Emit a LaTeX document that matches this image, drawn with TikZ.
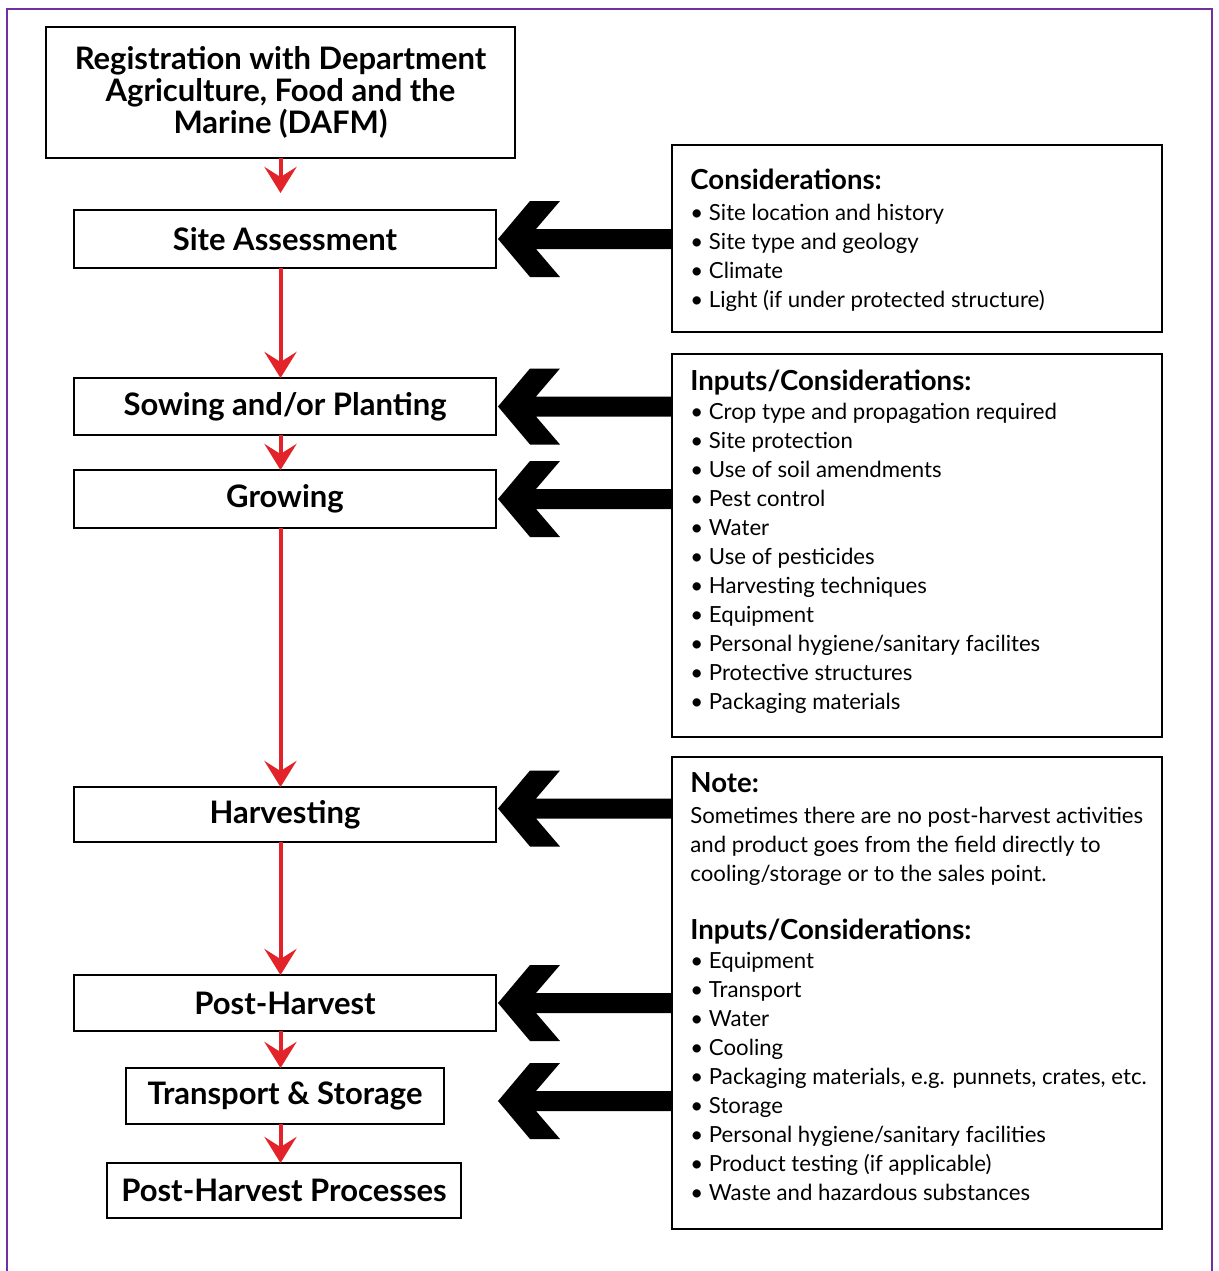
\documentclass[tikz,border=0pt]{standalone}
\usepackage{fontspec}
\setmainfont{Lato}
\usetikzlibrary{arrows.meta,calc}
\definecolor{borderpurple}{RGB}{112,48,160}
\definecolor{flowred}{RGB}{226,35,42}
\newcommand\bigarrow[2]{%
  \fill (#1) -- ++(32,-38) -- ++(30,0) -- ++(-24,28) -- ($(#2)+(0,-10)$)
    -- ($(#2)+(0,10)$) -- ($(#1)+(38,10)$) -- ++(24,28) -- ++(-30,0) -- cycle;}
\begin{document}
\begin{tikzpicture}[x=0.5pt,y=-0.5pt,
  stage/.style={draw=black, line width=1pt, inner sep=0pt, outer sep=0pt,
    anchor=north west, align=center, font=\bfseries\fontsize{15.5}{16}\selectfont},
  infobox/.style={draw=black, line width=1pt, inner sep=0pt, outer sep=0pt,
    anchor=north west, minimum width=245pt},
  infotext/.style={anchor=west, align=left, inner sep=0pt,
    font=\fontsize{11.1}{14.5}\selectfont},
  redflow/.style={draw=flowred, line width=2pt,
    -{Stealth[length=13pt,width=16pt,inset=5pt]}}
]
\newcommand\hd[1]{{\bfseries\fontsize{13.8}{14.5}\selectfont #1}}
\useasboundingbox (0,0) rectangle (1219,1271);
\draw[borderpurple, line width=1pt] (7,1280) -- (7,9) -- (1212,9) -- (1212,1280);

% stages
\node[stage, minimum width=234.5pt, minimum height=65.5pt] (reg) at (46,27)
  {Registration with Department\\Agriculture, Food and the\\Marine (DAFM)};
\node[stage, minimum width=211pt, minimum height=29pt] (sa) at (74,210) {Site Assessment};
\node[stage, minimum width=211pt, minimum height=28.5pt] (sow) at (74,378) {Sowing and/or Planting};
\node[stage, minimum width=211pt, minimum height=29pt] (grow) at (74,470) {Growing};
\node[stage, minimum width=211pt, minimum height=27.5pt] (harv) at (74,787) {Harvesting};
\node[stage, minimum width=211pt, minimum height=28pt] (ph) at (74,975) {Post-Harvest};
\node[stage, minimum width=159pt, minimum height=28pt] (ts) at (126,1068) {Transport \& Storage};
\node[stage, minimum width=177pt, minimum height=27.5pt] (php) at (107,1163) {Post-Harvest Processes};

% red flow arrows
\draw[redflow, shorten >=8.5pt] (reg.south) -- (reg.south |- sa.north);
\draw[redflow] (reg.south |- sa.south) -- (reg.south |- sow.north);
\draw[redflow] (reg.south |- sow.south) -- (reg.south |- grow.north);
\draw[redflow] (reg.south |- grow.south) -- (reg.south |- harv.north);
\draw[redflow] (reg.south |- harv.south) -- (reg.south |- ph.north);
\draw[redflow] (reg.south |- ph.south) -- (reg.south |- ts.north);
\draw[redflow] (reg.south |- ts.south) -- (reg.south |- php.north);

% info boxes
\node[infobox, minimum height=93.5pt] (cons) at (672,145) {};
\node[infobox, minimum height=191.5pt] (inp) at (672,354) {};
\node[infobox, minimum height=236pt] (note) at (672,757) {};

\node[infotext] (consT) at ($(cons.west)+(18,2)$) {%
  \hd{Considerations:}\\[1pt]
  \textbullet\ Site location and history\\
  \textbullet\ Site type and geology\\
  \textbullet\ Climate\\
  \textbullet\ Light (if under protected structure)};
\node[infotext] (inpT) at ($(inp.west)+(18,-4)$) {%
  \hd{Inputs/Considerations:}\\
  \textbullet\ Crop type and propagation required\\
  \textbullet\ Site protection\\
  \textbullet\ Use of soil amendments\\
  \textbullet\ Pest control\\
  \textbullet\ Water\\
  \textbullet\ Use of pesticides\\
  \textbullet\ Harvesting techniques\\
  \textbullet\ Equipment\\
  \textbullet\ Personal hygiene/sanitary facilites\\
  \textbullet\ Protective structures\\
  \textbullet\ Packaging materials};
\node[infotext] (noteT) at ($(note.west)+(18,-6)$) {%
  \hd{Note:}\\[1pt]
  Sometimes there are no post-harvest activities\\
  and product goes from the field directly to\\
  cooling/storage or to the sales point.\\[14.5pt]
  \hd{Inputs/Considerations:}\\
  \textbullet\ Equipment\\
  \textbullet\ Transport\\
  \textbullet\ Water\\
  \textbullet\ Cooling\\
  \textbullet\ Packaging materials, e.g. punnets, crates, etc.\\
  \textbullet\ Storage\\
  \textbullet\ Personal hygiene/sanitary facilities\\
  \textbullet\ Product testing (if applicable)\\
  \textbullet\ Waste and hazardous substances};

% big black arrows
\coordinate (tipx) at (498,0);
\bigarrow{$(tipx |- sa.east)$}{$(cons.west |- sa.east)$}
\bigarrow{$(tipx |- sow.east)$}{$(inp.west |- sow.east)$}
\bigarrow{$(tipx |- grow.east)$}{$(inp.west |- grow.east)$}
\bigarrow{$(tipx |- harv.east)+(0,-6)$}{$(note.west |- harv.east)+(0,-6)$}
\bigarrow{$(tipx |- ph.east)$}{$(note.west |- ph.east)$}
\bigarrow{$(tipx |- ts.east)+(0,5)$}{$(note.west |- ts.east)+(0,5)$}
\end{tikzpicture}
\end{document}
